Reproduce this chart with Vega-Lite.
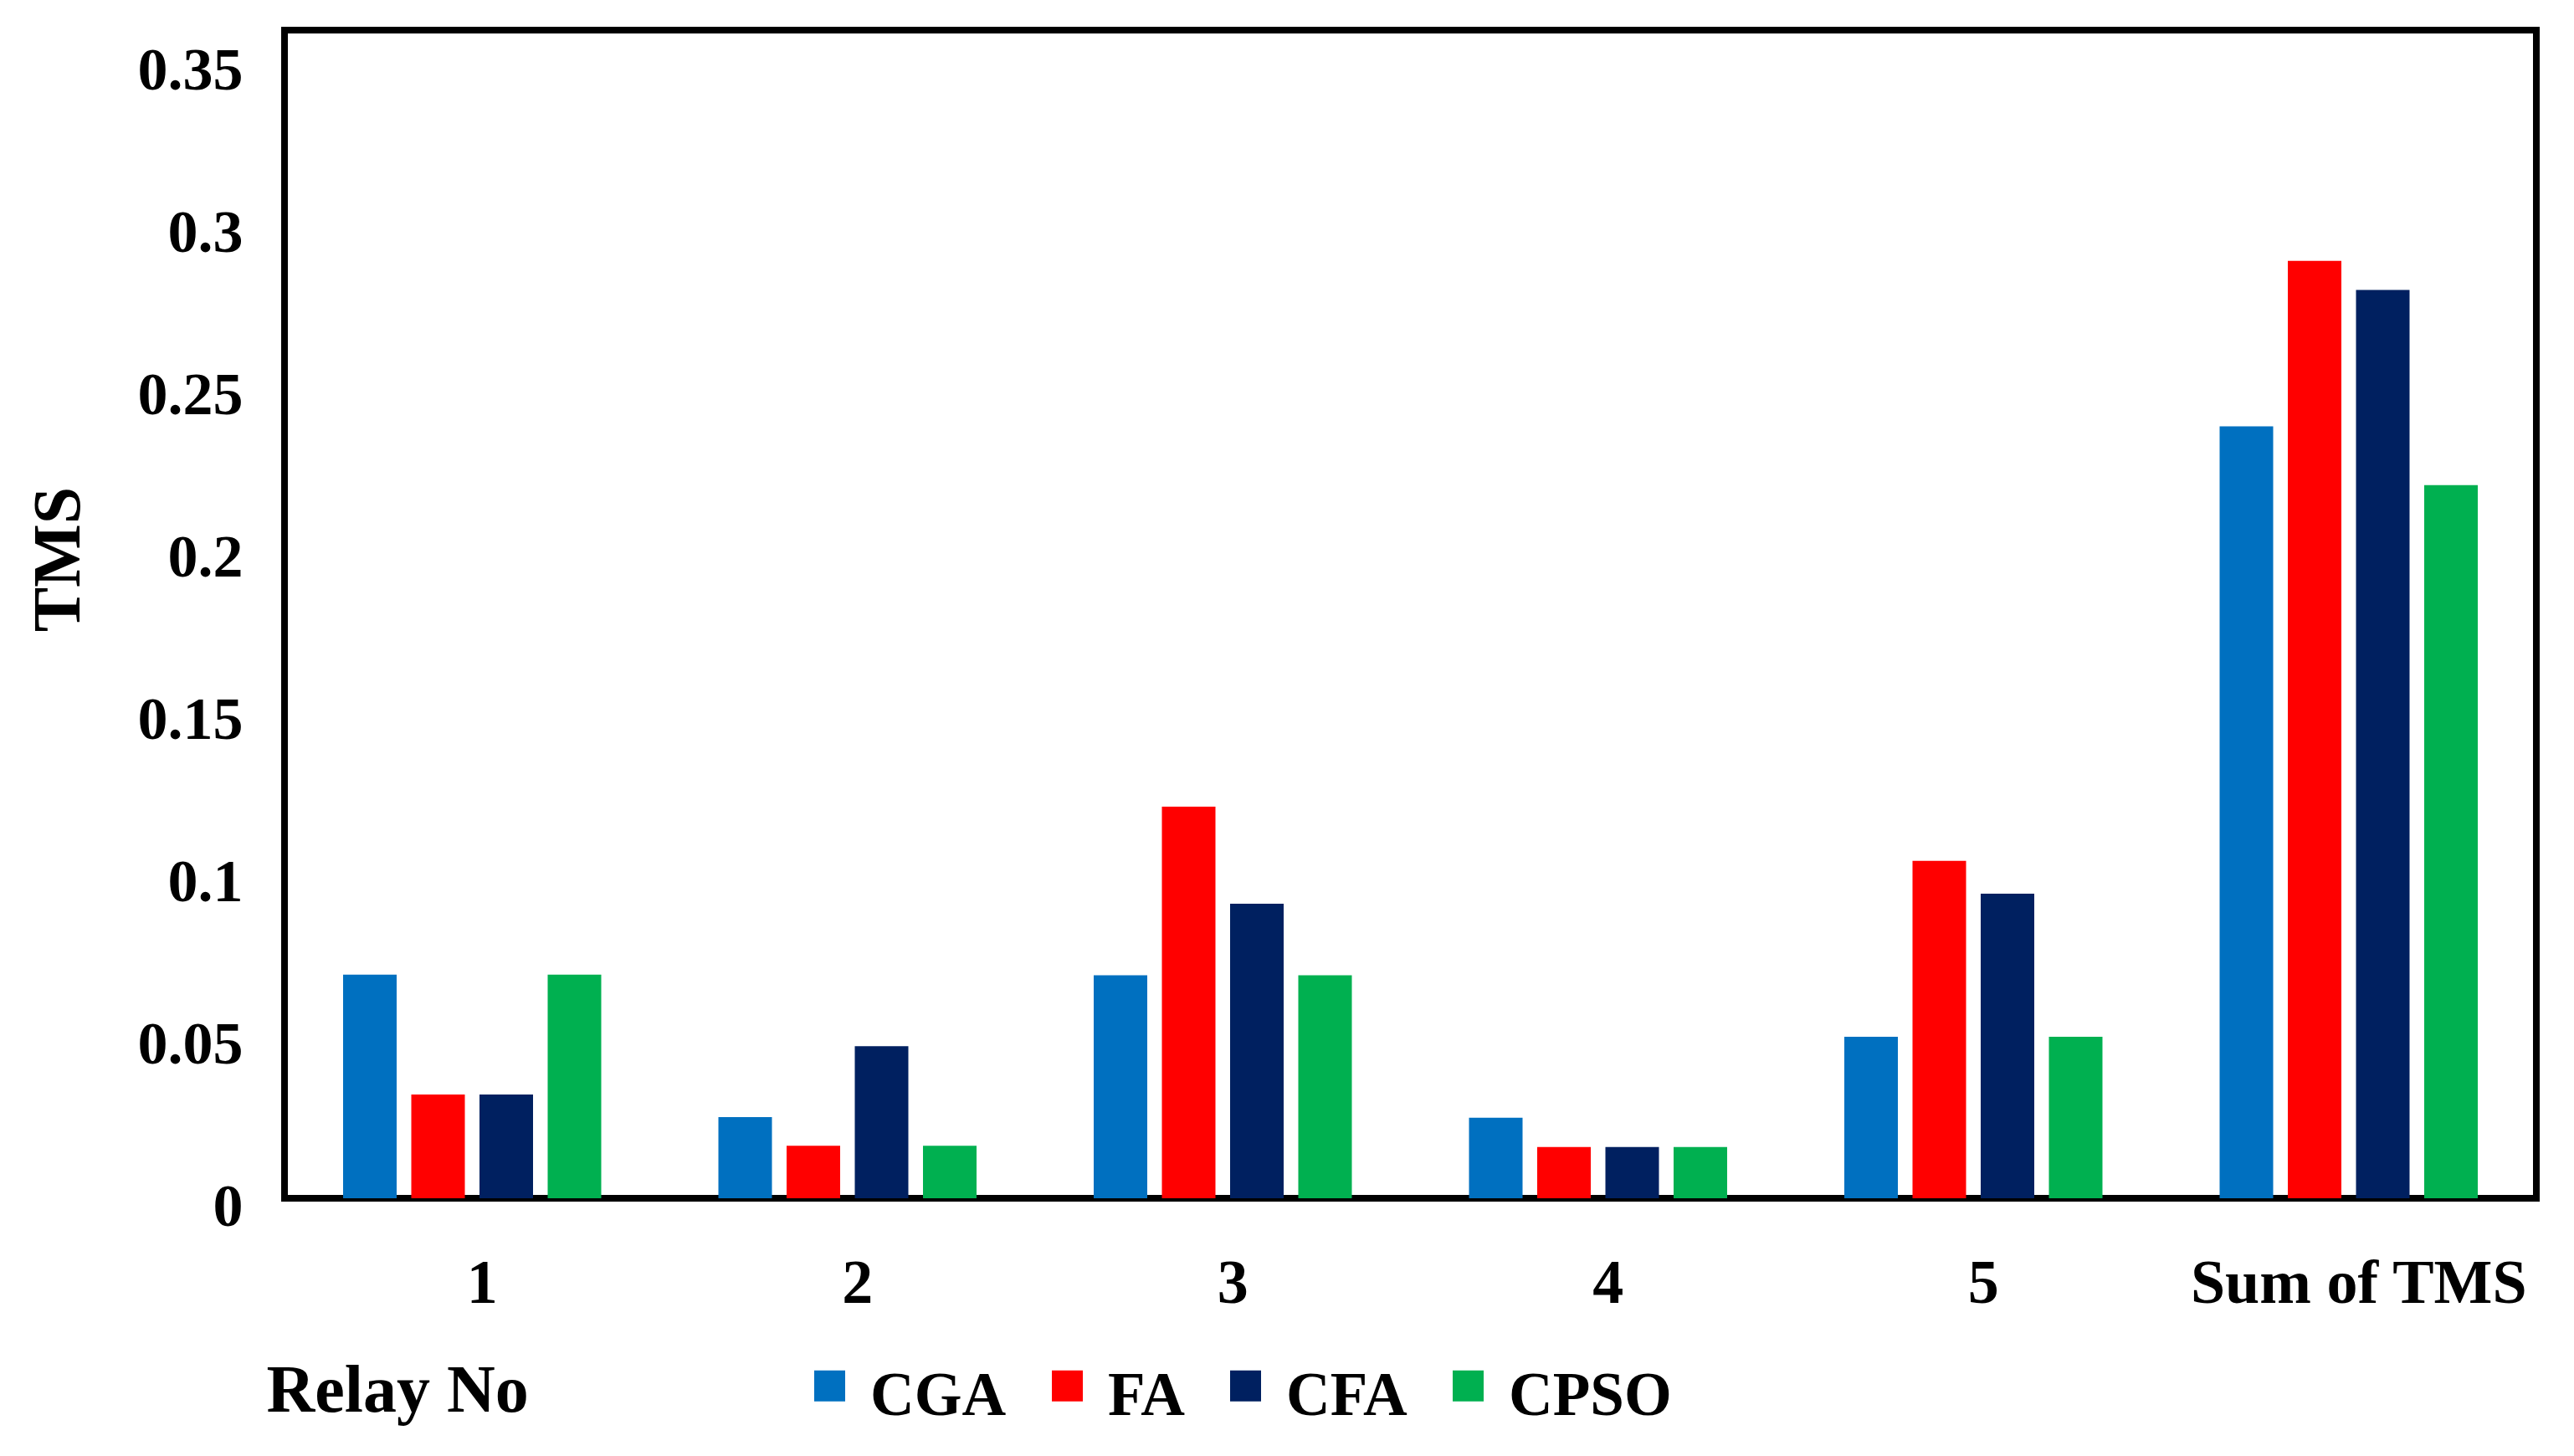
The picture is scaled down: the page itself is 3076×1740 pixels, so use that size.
{
  "$schema": "https://vega.github.io/schema/vega-lite/v6.json",
  "autosize": {"type": "none"},
  "padding": {"left": 340, "top": 36, "right": 45, "bottom": 308},
  "width": 2691,
  "height": 1396,
  "background": "white",
  "config": {
    "font": "Liberation Serif",
    "view": {"stroke": "black", "strokeWidth": 8}
  },
  "data": {
    "values": [
      {"relay": "1", "method": "CGA", "tms": 0.0689},
      {"relay": "1", "method": "FA", "tms": 0.032},
      {"relay": "1", "method": "CFA", "tms": 0.032},
      {"relay": "1", "method": "CPSO", "tms": 0.0689},
      {"relay": "2", "method": "CGA", "tms": 0.025},
      {"relay": "2", "method": "FA", "tms": 0.0162},
      {"relay": "2", "method": "CFA", "tms": 0.0469},
      {"relay": "2", "method": "CPSO", "tms": 0.0162},
      {"relay": "3", "method": "CGA", "tms": 0.0687},
      {"relay": "3", "method": "FA", "tms": 0.1207},
      {"relay": "3", "method": "CFA", "tms": 0.0908},
      {"relay": "3", "method": "CPSO", "tms": 0.0687},
      {"relay": "4", "method": "CGA", "tms": 0.0248},
      {"relay": "4", "method": "FA", "tms": 0.0158},
      {"relay": "4", "method": "CFA", "tms": 0.0158},
      {"relay": "4", "method": "CPSO", "tms": 0.0158},
      {"relay": "5", "method": "CGA", "tms": 0.0498},
      {"relay": "5", "method": "FA", "tms": 0.104},
      {"relay": "5", "method": "CFA", "tms": 0.0939},
      {"relay": "5", "method": "CPSO", "tms": 0.0498},
      {"relay": "Sum of TMS", "method": "CGA", "tms": 0.2379},
      {"relay": "Sum of TMS", "method": "FA", "tms": 0.2889},
      {"relay": "Sum of TMS", "method": "CFA", "tms": 0.2799},
      {"relay": "Sum of TMS", "method": "CPSO", "tms": 0.2198}
    ]
  },
  "mark": {"type": "bar"},
  "encoding": {
    "x": {
      "field": "relay",
      "type": "nominal",
      "sort": ["1", "2", "3", "4", "5", "Sum of TMS"],
      "scale": {"paddingInner": 0, "paddingOuter": 0},
      "axis": {
        "domain": false,
        "ticks": false,
        "labelAngle": 0,
        "labelFont": "Liberation Serif",
        "labelFontWeight": "bold",
        "labelFontSize": 74,
        "labelColor": "black",
        "labelPadding": 66,
        "labelOffset": 12,
        "labelLimit": 0,
        "labelOverlap": false,
        "title": "Relay No",
        "titleFont": "Liberation Serif",
        "titleFontWeight": "bold",
        "titleFontSize": 80,
        "titleColor": "black",
        "titleAlign": "left",
        "titleBaseline": "alphabetic",
        "titleX": -22,
        "titleY": 254
      }
    },
    "xOffset": {
      "field": "method",
      "sort": ["CGA", "FA", "CFA", "CPSO"],
      "scale": {"paddingInner": 0.2147, "paddingOuter": 0.859}
    },
    "y": {
      "field": "tms",
      "type": "quantitative",
      "scale": {"domain": [0, 0.36], "nice": false},
      "axis": {
        "values": [0, 0.05, 0.1, 0.15, 0.2, 0.25, 0.3, 0.35],
        "format": "~g",
        "domain": false,
        "ticks": false,
        "grid": false,
        "labelFont": "Liberation Serif",
        "labelFontWeight": "bold",
        "labelFontSize": 72,
        "labelColor": "black",
        "labelPadding": 50,
        "labelOffset": 10,
        "labelFlush": false,
        "labelOverlap": false,
        "labelBound": false,
        "title": "TMS",
        "titleFont": "Liberation Serif",
        "titleFontWeight": "bold",
        "titleFontSize": 80,
        "titleColor": "black",
        "titleAngle": -90,
        "titleAlign": "center",
        "titleBaseline": "middle",
        "titleX": -270,
        "titleY": 632
      }
    },
    "color": {
      "field": "method",
      "type": "nominal",
      "sort": ["CGA", "FA", "CFA", "CPSO"],
      "scale": {
        "domain": ["CGA", "FA", "CFA", "CPSO"],
        "range": ["#0070C0", "#FF0000", "#002060", "#00B050"]
      },
      "legend": {
        "orient": "none",
        "direction": "horizontal",
        "legendX": 615,
        "legendY": 1596,
        "padding": 0,
        "title": null,
        "symbolType": "M-1,-1.676H1V0.324H-1Z",
        "symbolSize": 1369,
        "symbolStrokeWidth": 0,
        "labelFont": "Liberation Serif",
        "labelFontWeight": "bold",
        "labelFontSize": 73,
        "labelColor": "black",
        "labelBaseline": "middle",
        "labelOffset": 12,
        "columnPadding": 36,
        "labelLimit": 0,
        "encode": {
          "symbols": {
            "update": {
              "fill": [
                {"test": "datum.value === 'CGA'", "value": "#5B9BD5"},
                {"scale": "color", "field": "value"}
              ],
              "opacity": {"value": 1}
            }
          }
        }
      }
    }
  }
}
